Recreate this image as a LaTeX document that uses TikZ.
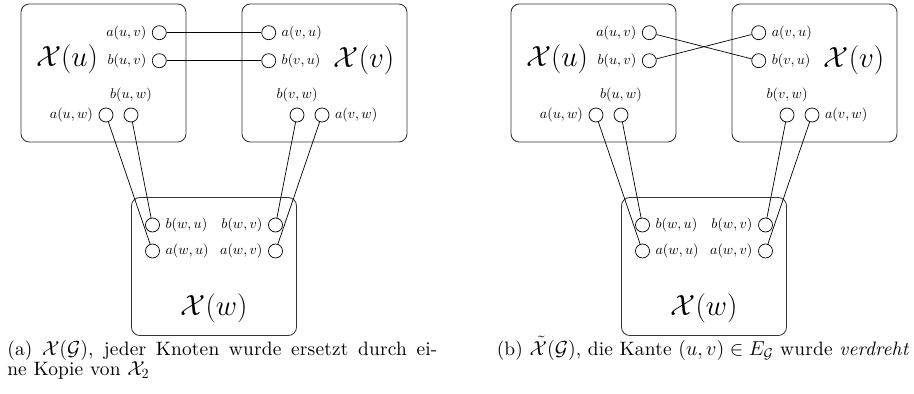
\documentclass[tikz,border=0pt]{standalone}
\usepackage{amsmath,amssymb}
\usepackage{fontspec}
\usetikzlibrary{positioning}
\newfontfamily\capfont{lmroman10-regular.otf}[
  ItalicFont=lmroman10-italic.otf, LetterSpace=1]

\begin{document}
\begin{tikzpicture}[
  x=0.025cm, y=-0.025cm,
  gad/.style={draw=black!80, line width=.6pt, rounded corners=6pt,
              minimum width=4.125cm, minimum height=3.45cm, inner sep=0pt},
  port/.style={circle, draw, line width=.5pt, minimum size=0.35cm, inner sep=0pt},
  lbl/.style={font=\fontsize{10.2}{12}\selectfont, inner sep=1pt},
  big/.style={font=\fontsize{20.5}{24}\selectfont, inner sep=0pt},
  wire/.style={draw, line width=.5pt},
  captxt/.style={font=\capfont\fontsize{13.8}{14.2}\selectfont, inner sep=0pt},
]
\useasboundingbox (0,0) rectangle (914,394);

% ---------------- the two copies: (a) left, (b) right ----------------
\foreach \p/\dx in {L/0, R/490} {
  % gadget boxes
  \node[gad] (\p U) at (103.5+\dx, 73)  {};
  \node[gad] (\p V) at (324.5+\dx, 73)  {};
  \node[gad] (\p W) at (214+\dx, 266.5) {};

  % ports of X(u)
  \node[port] (\p aUV) at (159.3+\dx, 32.7) {};
  \node[port] (\p bUV) at (159.3+\dx, 60.7) {};
  \node[port] (\p aUW) at (106+\dx, 115)    {};
  \node[port] (\p bUW) at (131+\dx, 115)    {};
  % ports of X(v)
  \node[port] (\p aVU) at (268.7+\dx, 32.7) {};
  \node[port] (\p bVU) at (268.7+\dx, 60.7) {};
  \node[port] (\p bVW) at (297+\dx, 115)    {};
  \node[port] (\p aVW) at (322+\dx, 115)    {};
  % ports of X(w)
  \node[port] (\p bWU) at (152.5+\dx, 225)  {};
  \node[port] (\p aWU) at (152.5+\dx, 251)  {};
  \node[port] (\p bWV) at (275.5+\dx, 225)  {};
  \node[port] (\p aWV) at (275.5+\dx, 251)  {};

  % port labels
  \node[lbl, left=0.1cm of \p aUV]   {$a(u,v)$};
  \node[lbl, left=0.1cm of \p bUV]   {$b(u,v)$};
  \node[lbl, left=0.1cm of \p aUW]   {$a(u,w)$};
  \node[lbl, above=0.1cm of \p bUW]  {$b(u,w)$};
  \node[lbl, right=0.1cm of \p aVU]  {$a(v,u)$};
  \node[lbl, right=0.1cm of \p bVU]  {$b(v,u)$};
  \node[lbl, above=0.1cm of \p bVW]  {$b(v,w)$};
  \node[lbl, right=0.1cm of \p aVW]  {$a(v,w)$};
  \node[lbl, right=0.1cm of \p bWU]  {$b(w,u)$};
  \node[lbl, right=0.1cm of \p aWU]  {$a(w,u)$};
  \node[lbl, left=0.1cm of \p bWV]   {$b(w,v)$};
  \node[lbl, left=0.1cm of \p aWV]   {$a(w,v)$};

  % gadget names
  \node[big] (\p nU) at (67+\dx, 59)  {$\mathcal{X}(u)$};
  \node[big] (\p nV) at (364+\dx, 60) {$\mathcal{X}(v)$};
  \node[big] (\p nW) at (214+\dx, 308) {$\mathcal{X}(w)$};

  % edges towards w (same in both copies)
  \draw[wire] (\p aUW) -- (\p aWU);
  \draw[wire] (\p bUW) -- (\p bWU);
  \draw[wire] (\p bVW) -- (\p bWV);
  \draw[wire] (\p aVW) -- (\p aWV);
}

% ---------------- edge (u,v): straight in (a), twisted in (b) ----------------
\draw[wire] (LaUV) -- (LaVU);
\draw[wire] (LbUV) -- (LbVU);
\draw[wire] (RaUV) -- (RbVU);
\draw[wire] (RbUV) -- (RaVU);

% ---------------- captions ----------------
\node[captxt, anchor=north west, text width=10.75cm, align=justify] (capA) at (7, 340.5)
  {(a) $\mathcal{X}(\mathcal{G})$, jeder Knoten wurde ersetzt durch ei-\linebreak
   ne Kopie von $\mathcal{X}_2$};
\node[captxt, anchor=base] (capB) at (703, 355)
  {(b) $\tilde{\mathcal{X}}(\mathcal{G})$, die Kante $(u,v)\in E_{\mathcal{G}}$ wurde \emph{verdreht}};

\end{tikzpicture}
\end{document}
